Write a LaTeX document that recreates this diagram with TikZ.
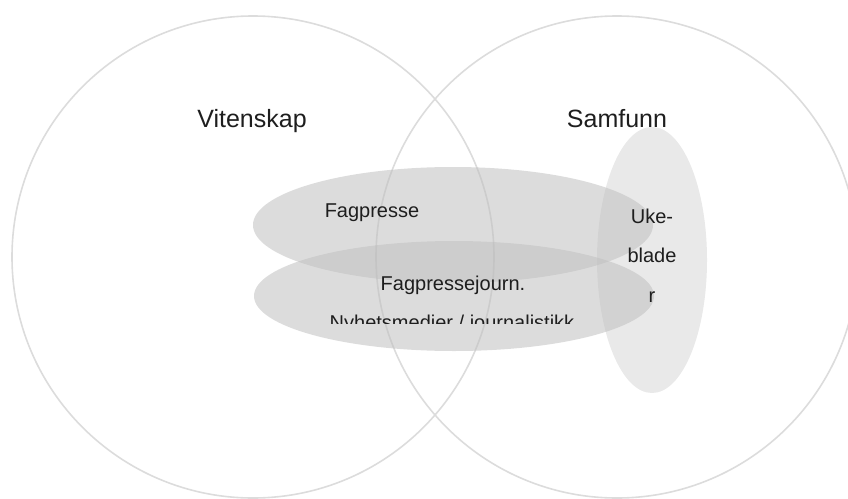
\documentclass[tikz,border=0pt]{standalone}
\usepackage{fontspec}
\setmainfont{Liberation Sans}
\usetikzlibrary{shapes.geometric}
\definecolor{ringgray}{RGB}{220,220,220}
\definecolor{txtgray}{RGB}{30,30,30}
\tikzset{
  setring/.style={circle, draw=ringgray, line width=1.6pt, minimum size=482pt, inner sep=0pt},
  mediablob/.style={ellipse, fill=black!25, fill opacity=0.54, draw=none, inner sep=0pt},
  ukeblob/.style={ellipse, fill=black!25, fill opacity=0.35, draw=none, inner sep=0pt},
  bigtxt/.style={anchor=base, text=txtgray, font=\fontsize{25pt}{30pt}\selectfont, inner sep=0pt},
  smalltxt/.style={anchor=base, text=txtgray, font=\fontsize{20pt}{24pt}\selectfont, inner sep=0pt}
}
\begin{document}
\begin{tikzpicture}[x=1pt,y=-1pt]
\useasboundingbox (0,0) rectangle (848,498);
\node[setring] (vit) at (253,257) {};
\node[setring] (sam) at (617,257) {};
\node[mediablob, minimum width=400pt, minimum height=116pt] (fag) at (453,225) {};
\node[mediablob, minimum width=400pt, minimum height=110pt] (nyh) at (454,296) {};
\node[ukeblob, minimum width=110pt, minimum height=266pt] (uke) at (652,260) {};
\node[bigtxt] (vitlbl) at (252,127) {Vitenskap};
\node[bigtxt] (samlbl) at (617,127) {Samfunn};
\node[smalltxt] (faglbl) at (372,217) {Fagpresse};
\node[smalltxt] (fjlbl) at (453,290) {Fagpressejourn.};
\begin{scope}
\clip (250,290) rectangle (660,323);
\node[smalltxt] (nyhlbl) at (452,329.5) {Nyhetsmedier / journalistikk};
\end{scope}
\node[smalltxt] (uke1) at (652,223) {Uke-};
\node[smalltxt] (uke2) at (652,262) {blade};
\node[smalltxt] (uke3) at (652,302) {r};
\end{tikzpicture}
\end{document}
